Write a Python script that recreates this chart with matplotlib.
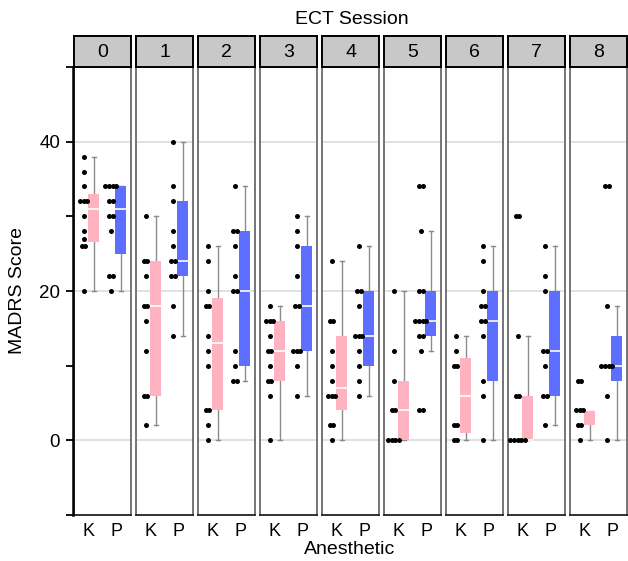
import numpy as np
import matplotlib
matplotlib.use("Agg")
import matplotlib.pyplot as plt

plt.rcParams['font.family'] = ['Liberation Sans', 'DejaVu Sans']

sessions = ['0', '1', '2', '3', '4', '5', '6', '7', '8']
groups = ['K', 'P']

# raw scores (dots)
k_points = [
    [38, 36, 34, 32, 32, 32, 30, 28, 27, 26, 26, 20],
    [30, 24, 24, 22, 18, 18, 16, 12, 6, 6, 2],
    [26, 24, 20, 18, 18, 14, 12, 10, 4, 4, 2, 0],
    [18, 16, 16, 16, 14, 12, 12, 10, 8, 8, 6, 0],
    [24, 16, 16, 12, 10, 8, 6, 6, 6, 2, 2, 0],
    [20, 12, 8, 4, 4, 0, 0, 0, 0],
    [14, 12, 10, 10, 2, 2, 0, 0],
    [30, 30, 14, 6, 6, 0, 0, 0, 0, 0],
    [8, 8, 4, 4, 4, 2, 2, 0],
]
p_points = [
    [34, 34, 34, 34, 32, 32, 30, 30, 28, 22, 22, 20],
    [40, 34, 32, 28, 26, 24, 24, 22, 22, 18, 14],
    [34, 28, 28, 26, 22, 20, 20, 12, 10, 8, 8],
    [30, 28, 26, 22, 18, 18, 12, 12, 12, 10, 6],
    [26, 20, 20, 18, 14, 14, 14, 12, 10, 8, 6],
    [34, 34, 28, 20, 20, 16, 16, 16, 16, 14, 14, 12, 4, 4],
    [26, 24, 20, 18, 18, 16, 16, 14, 8, 6, 0],
    [26, 22, 20, 12, 12, 10, 6, 6, 2],
    [34, 34, 18, 10, 10, 10, 10, 6, 0],
]

# box statistics
k_lo  = [20, 2, 0, 0, 0, 0, 0, 0, 0]
k_q1  = [26.5, 6, 4, 8, 4, 0, 1, 0, 2]
k_med = [31, 18, 13, 12, 7, 4, 6, 0, 4]
k_q3  = [33, 24, 19, 16, 14, 8, 11, 6, 4]
k_hi  = [38, 30, 26, 18, 24, 20, 14, 14, 4]

p_lo  = [20, 14, 8, 6, 6, 12, 0, 2, 0]
p_q1  = [25, 22, 10, 12, 10, 14, 8, 6, 8]
p_med = [31, 24, 20, 18, 14, 16, 16, 12, 10]
p_q3  = [34, 32, 28, 26, 20, 20, 20, 20, 14]
p_hi  = [34, 40, 34, 30, 26, 28, 26, 26, 18]

colors = {'K': '#FFB3C1', 'P': '#5E6FFF'}

W_PX, H_PX = 628, 561
fig = plt.figure(figsize=(W_PX / 100, H_PX / 100), dpi=100)

left0 = 74 / W_PX
pw = 57 / W_PX
pitch = 62 / W_PX
bottom = 1 - 515 / H_PX
top = 1 - 67 / H_PX
strip_h = 31 / H_PX

box_off = 0.17
box_w = 0.4
dot_off = -0.2
dot_sp = 0.14

for i, s in enumerate(sessions):
    ax = fig.add_axes([left0 + i * pitch, bottom, pw, top - bottom])
    ax.set_xlim(0.45, 2.55)
    ax.set_ylim(-10, 50)
    ax.set_yticks([0, 20, 40])
    ax.yaxis.grid(True, color='#dcdcdc', lw=1.2)
    ax.set_axisbelow(True)
    ax.tick_params(axis='y', left=False, labelleft=False)
    ax.set_xticks([1, 2])
    ax.set_xticklabels(groups, fontsize=13)
    ax.tick_params(axis='x', length=0, pad=6)
    for sp in ax.spines.values():
        sp.set_color('#6a6a6a')
        sp.set_linewidth(1.3)
    ax.spines['bottom'].set_color('#222222')

    stats = []
    for g, (lo, q1, med, q3, hi) in zip(groups, [
            (k_lo[i], k_q1[i], k_med[i], k_q3[i], k_hi[i]),
            (p_lo[i], p_q1[i], p_med[i], p_q3[i], p_hi[i])]):
        stats.append(dict(whislo=lo, q1=q1, med=med, q3=q3, whishi=hi, fliers=[], label=g))
    bp = ax.bxp(stats, positions=[1 + box_off, 2 + box_off], widths=box_w,
                patch_artist=True, showfliers=False, capwidths=0.15,
                boxprops=dict(linewidth=0),
                medianprops=dict(color='white', lw=1.2),
                whiskerprops=dict(color='#8c8c8c', lw=1),
                capprops=dict(color='#8c8c8c', lw=1),
                manage_ticks=False)
    for patch, g in zip(bp['boxes'], groups):
        patch.set_facecolor(colors[g])
        patch.set_edgecolor(colors[g])
    for w_ in bp['whiskers'] + bp['caps']:
        w_.set_zorder(1)
    for b in bp['boxes']:
        b.set_zorder(2)
    for m in bp['medians']:
        m.set_zorder(3)

    for gi, pts in enumerate([k_points[i], p_points[i]]):
        vals, counts = np.unique(pts, return_counts=True)
        xs, ys = [], []
        for v, c in zip(vals, counts):
            offs = (np.arange(c) - (c - 1) / 2) * dot_sp
            xs.extend(gi + 1 + dot_off + offs)
            ys.extend([v] * c)
        ax.plot(xs, ys, 'o', color='black', ms=3.6, mew=0, zorder=4, clip_on=False)

    sax = fig.add_axes([left0 + i * pitch, top, pw, strip_h])
    sax.set_facecolor('#c8c8c8')
    sax.set_xticks([])
    sax.set_yticks([])
    for sp in sax.spines.values():
        sp.set_color('black')
        sp.set_linewidth(1.4)
    sax.text(0.5, 0.48, s, ha='center', va='center', fontsize=14, transform=sax.transAxes)

# shared y axis
yax = fig.add_axes([72.5 / W_PX, bottom, 0.0001, top - bottom])
yax.set_ylim(-10, 50)
yax.patch.set_visible(False)
for k in ['right', 'top', 'bottom']:
    yax.spines[k].set_visible(False)
yax.spines['left'].set_linewidth(1.8)
yax.spines['left'].set_color('black')
yticks = [-10, 0, 10, 20, 30, 40, 50]
yax.set_yticks(yticks)
yax.set_yticklabels(['' if t not in (0, 20, 40) else str(t) for t in yticks], fontsize=13.5)
yax.tick_params(axis='y', length=5, width=1.3, pad=4)
yax.set_xticks([])

fig.text(352 / W_PX, 1 - 19 / H_PX, 'ECT Session', ha='center', va='center', fontsize=14)
fig.text(350 / W_PX, 1 - 550 / H_PX, 'Anesthetic', ha='center', va='center', fontsize=14)
fig.text(18 / W_PX, 1 - 291 / H_PX, 'MADRS Score', ha='center', va='center', rotation=90, fontsize=14)

fig.savefig('out.png', dpi=100)
